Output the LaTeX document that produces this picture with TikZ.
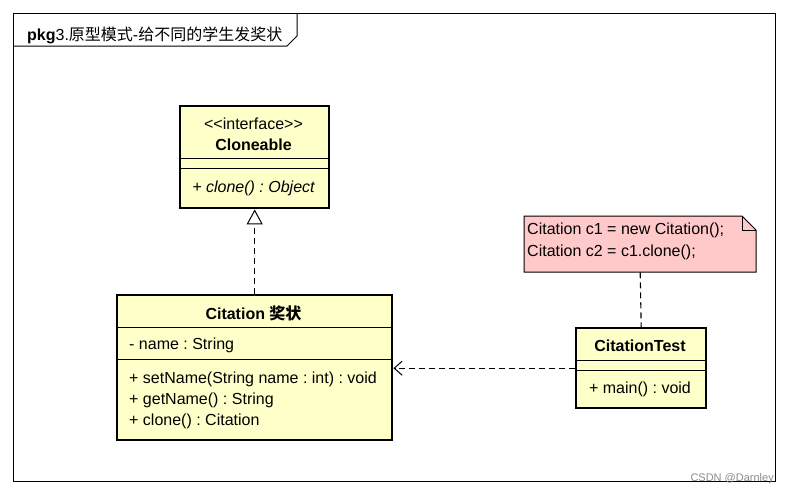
\documentclass[tikz,border=0pt]{standalone}
\usepackage{fontspec}
\setmainfont{Liberation Sans}
\newfontfamily\cjk{Noto Sans CJK SC}
\usetikzlibrary{arrows.meta}
\frenchspacing
\definecolor{umlyellow}{RGB}{255,255,202}
\definecolor{notepink}{RGB}{255,201,201}
\tikzset{
  umlbox/.style={draw, line width=2.4pt, fill=umlyellow, anchor=north west, inner sep=0pt},
  txt/.style={font=\fontsize{16}{18}\selectfont\frenchspacing, inner sep=0pt},
  boldtxt/.style={txt, font=\fontsize{16}{18}\selectfont\bfseries},
  divider/.style={line width=1pt},
  dashline/.style={line width=1.1pt, dash pattern=on 6pt off 4pt},
}
\begin{document}
\begin{tikzpicture}[x=1pt,y=-1pt]
\useasboundingbox[fill=white] (0,0) rectangle (789,493);
% frame
\draw[line width=1pt] (13,13) rectangle (775,481);
\draw[line width=1pt] (13,46) -- (287,46) -- (297,36) -- (297,13);
\node[txt, anchor=base west] (title) at (27,40) {\textbf{pkg}3.{\cjk 原型模式}-{\cjk 给不同的学生发奖状}};

% Cloneable
\node[umlbox, minimum width=149pt, minimum height=102pt] (cloneable) at (179,105) {};
\node[txt] (clst) at (253.5,124) {\symbol{60}\symbol{60}interface\symbol{62}\symbol{62}};
\node[boldtxt] (clname) at (253.5,145) {Cloneable};
\draw[divider] (179,158) -- (328,158);
\draw[divider] (179,168) -- (328,168);
\node[txt, font=\fontsize{16}{18}\selectfont\itshape] (clop) at (253.5,188) {+ clone() : Object};

% Citation
\node[umlbox, minimum width=275pt, minimum height=145pt] (citation) at (116,294) {};
\node[boldtxt] (ciname) at (253.5,313) {Citation {\cjk\bfseries 奖状}};
\draw[divider] (116,327) -- (391,327);
\node[txt, anchor=west] (ciattr) at (129,345) {- name : String};
\draw[divider] (116,359) -- (391,359);
\node[txt, anchor=west] (cim1) at (129,379) {+ setName(String name : int) : void};
\node[txt, anchor=west] (cim2) at (129,400) {+ getName() : String};
\node[txt, anchor=west] (cim3) at (129,421) {+ clone() : Citation};

% CitationTest
\node[umlbox, minimum width=130pt, minimum height=80pt] (test) at (575,327) {};
\node[boldtxt] (tname) at (640,346) {CitationTest};
\draw[divider] (575,360) -- (705,360);
\draw[divider] (575,370) -- (705,370);
\node[txt] (top) at (640,389) {+ main() : void};

% Note
\node[anchor=north west, minimum width=232pt, minimum height=56pt, inner sep=0pt] (note) at (524,216) {};
\draw[line width=1pt, fill=notepink] (524,216) -- (742,216) -- (756,230) -- (756,272) -- (524,272) -- cycle;
\draw[line width=1pt] (742,216) -- (742,230) -- (756,230);
\node[txt, anchor=west] (n1) at (527,230) {Citation c1 = new Citation();};
\node[txt, anchor=west] (n2) at (527,252) {Citation c2 = c1.clone();};

% connectors
\draw[dashline, -{Triangle[open, length=15pt, width=16pt, line width=1pt]}] (citation.north) -- (cloneable.south);
\draw[dashline] (note.south) -- (test.north);
\draw[dashline, -{Straight Barb[length=8pt, width=14pt, line width=1pt]}] (test.west) -- (citation.east |- test.west);

% watermark
\node[txt, font=\fontsize{11}{12}\selectfont, text=black!45, anchor=base east] (wm) at (774,481) {CSDN @Darnley};
\end{tikzpicture}
\end{document}
